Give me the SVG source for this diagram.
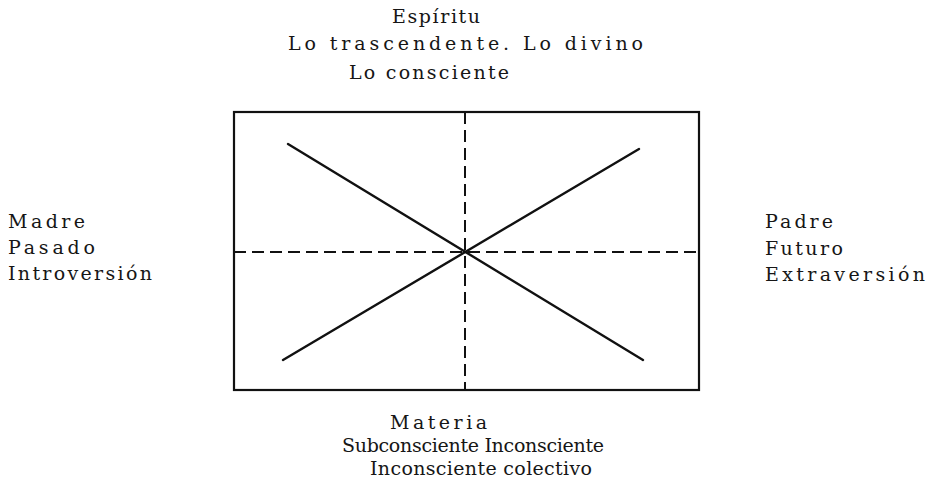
<svg xmlns="http://www.w3.org/2000/svg" width="935" height="491" viewBox="0 0 935 491">
<style>
text{font-family:"DejaVu Serif","Liberation Serif",serif;font-size:19px;fill:#161616}
.box{fill:none;stroke:#111;stroke-width:2.2}
.solid{stroke:#111;stroke-width:2.4;stroke-linecap:round;fill:none}
.dash{stroke:#111;stroke-width:2;fill:none;stroke-dasharray:12 6}
</style>
<rect width="935" height="491" fill="#fff"/>
<g id="diagrama">
<rect class="box" x="234" y="112" width="465" height="278"/>
</g>
<g id="conectores">
<line class="dash" x1="465" y1="112" x2="465" y2="390"/>
<line class="dash" x1="234" y1="252" x2="699" y2="252"/>
<line class="solid" x1="288" y1="144" x2="643" y2="360"/>
<line class="solid" x1="283" y1="360" x2="639" y2="149"/>
</g>
<g id="arriba">
<text x="392" y="23" textLength="88" lengthAdjust="spacing">Espíritu</text>
<text x="288" y="50" textLength="355" lengthAdjust="spacing">Lo trascendente. Lo divino</text>
<text x="349" y="79" textLength="160" lengthAdjust="spacing">Lo consciente</text>
</g>
<g id="izquierda">
<text x="8" y="228" textLength="77" lengthAdjust="spacing">Madre</text>
<text x="8" y="254" textLength="87" lengthAdjust="spacing">Pasado</text>
<text x="8" y="280" textLength="144" lengthAdjust="spacing">Introversión</text>
</g>
<g id="derecha">
<text x="765" y="228" textLength="68" lengthAdjust="spacing">Padre</text>
<text x="765" y="255" textLength="78" lengthAdjust="spacing">Futuro</text>
<text x="765" y="281" textLength="160" lengthAdjust="spacing">Extraversión</text>
</g>
<g id="abajo">
<text x="390" y="429" textLength="97" lengthAdjust="spacing">Materia</text>
<text x="342" y="452" textLength="262" lengthAdjust="spacing">Subconsciente Inconsciente</text>
<text x="370" y="475" textLength="222" lengthAdjust="spacing">Inconsciente colectivo</text>
</g>
</svg>
